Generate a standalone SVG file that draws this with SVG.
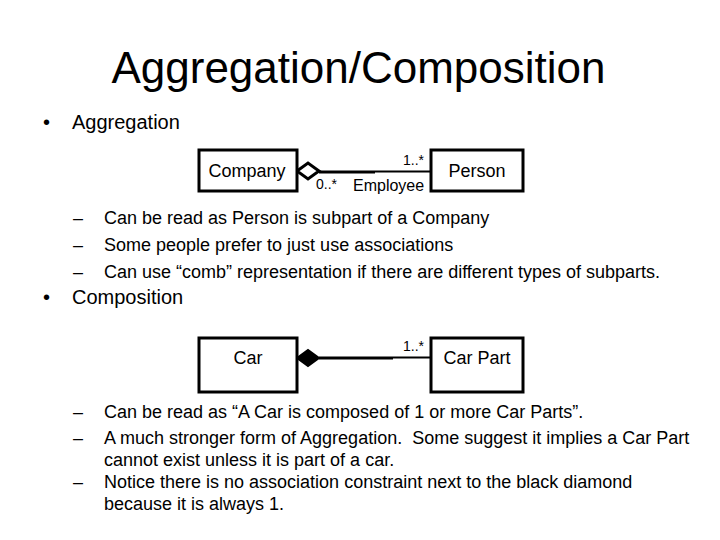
<svg xmlns="http://www.w3.org/2000/svg" width="720" height="540" viewBox="0 0 720 540">
<style>
text{font-family:"Liberation Sans",Arial,sans-serif;fill:#000}
.box{fill:#fff;stroke:#000;stroke-width:3}
.t{font-size:18px}
.lbl{font-size:18px;text-anchor:middle}
.sm{font-size:14px}
.ln{stroke:#000;fill:none}
</style>
<rect width="720" height="540" fill="#fff"/>
<text x="358.5" y="83" font-size="44" text-anchor="middle">Aggregation/Composition</text>
<text x="43" y="129" font-size="20">•</text>
<text x="72" y="129" font-size="20">Aggregation</text>
<g id="connectors">
<line class="ln" x1="319" y1="172" x2="375" y2="172" stroke-width="3"/>
<line class="ln" x1="375" y1="171.5" x2="431" y2="171.5" stroke-width="2"/>
<polygon points="297,171 308,163 319,171 308,179" fill="#fff" stroke="#000" stroke-width="3"/>
<line class="ln" x1="319" y1="358" x2="393" y2="358" stroke-width="3"/>
<line class="ln" x1="393" y1="357.5" x2="431" y2="357.5" stroke-width="2"/>
<polygon points="297,358 308,350 319,358 308,366" fill="#000" stroke="#000" stroke-width="2"/>
<text class="sm" x="403" y="165">1..*</text>
<text class="sm" x="316" y="189">0..*</text>
<text x="353" y="191" font-size="16">Employee</text>
<text class="sm" x="403" y="351">1..*</text>
</g>
<g id="company"><rect class="box" x="199" y="150" width="98" height="41"/><text class="lbl" x="247" y="177">Company</text></g>
<g id="person"><rect class="box" x="431" y="150" width="92" height="41"/><text class="lbl" x="477" y="177">Person</text></g>
<text class="t" x="73" y="224">–</text><text class="t" x="104" y="224">Can be read as Person is subpart of a Company</text>
<text class="t" x="73" y="251">–</text><text class="t" x="104" y="251">Some people prefer to just use associations</text>
<text class="t" x="73" y="278">–</text><text class="t" x="104" y="278">Can use “comb” representation if there are different types of subparts.</text>
<text x="43" y="304" font-size="20">•</text>
<text x="72" y="304" font-size="20">Composition</text>
<g id="car"><rect class="box" x="199" y="338" width="98" height="54"/><text class="lbl" x="248" y="364">Car</text></g>
<g id="carpart"><rect class="box" x="431" y="338" width="92" height="54"/><text class="lbl" x="477" y="364">Car Part</text></g>
<text class="t" x="73" y="418">–</text><text class="t" x="104" y="418">Can be read as “A Car is composed of 1 or more Car Parts”.</text>
<text class="t" x="73" y="444">–</text><text class="t" x="104" y="444">A much stronger form of Aggregation.&#160; Some suggest it implies a Car Part</text>
<text class="t" x="104" y="466">cannot exist unless it is part of a car.</text>
<text class="t" x="73" y="488">–</text><text class="t" x="104" y="488">Notice there is no association constraint next to the black diamond</text>
<text class="t" x="104" y="510">because it is always 1.</text>
</svg>
